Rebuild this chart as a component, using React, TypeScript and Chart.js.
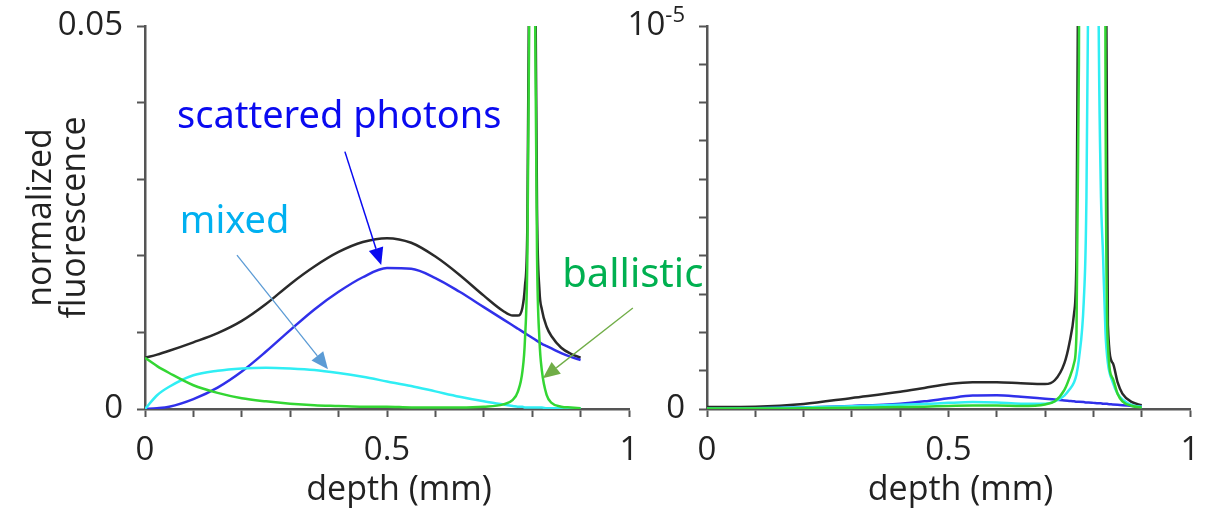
import React, { useEffect, useRef } from 'react';
import { Chart, registerables } from 'chart.js';

Chart.register(...registerables);

// ---------- data (left panel, absolute normalized fluorescence) ----------
const leftDepth = [0, 0.025, 0.05, 0.1, 0.15, 0.2, 0.25, 0.3, 0.35, 0.4, 0.45, 0.5, 0.55, 0.6, 0.65, 0.7, 0.74, 0.76, 0.77, 0.78, 0.785, 0.79, 0.795, 0.8, 0.805, 0.81, 0.815, 0.82, 0.83, 0.84, 0.86, 0.88, 0.9];
const leftTotal = [0.0067, 0.0071, 0.0076, 0.0087, 0.0099, 0.0115, 0.0137, 0.0163, 0.0186, 0.0205, 0.0218, 0.0223, 0.0217, 0.0199, 0.0175, 0.0148, 0.0128, 0.0122, 0.0122, 0.0133, 0.0160, 0.0240, 0.0700, 0.0900, 0.0700, 0.0260, 0.0155, 0.0130, 0.0107, 0.0095, 0.0080, 0.0072, 0.0067];
const leftScattered = [0, 0.0001, 0.0003, 0.0013, 0.0028, 0.0049, 0.0075, 0.0103, 0.0130, 0.0153, 0.0172, 0.0184, 0.0183, 0.0171, 0.0153, 0.0133, 0.0117, 0.0109, 0.0105, 0.0101, 0.0099, 0.0097, 0.0095, 0.0093, 0.0091, 0.0089, 0.0087, 0.0085, 0.0082, 0.0079, 0.0073, 0.0068, 0.0064];
const leftMixed = [0, 0.0018, 0.0029, 0.0044, 0.0050, 0.0053, 0.0054, 0.0053, 0.0051, 0.0047, 0.0042, 0.0036, 0.0030, 0.0023, 0.0016, 0.0010, 0.0006, 0.0004, 0.0003, 0.0003, 0.0002, 0.0002, 0.0002, 0.0002, 0.0002, 0.0002, 0.0002, 0.0002, 0.0001, 0.0001, 0.0001, 0.0001, 0.0001];
const leftBallistic = [0.0067, 0.0056, 0.0047, 0.0031, 0.0021, 0.0014, 0.0010, 0.0007, 0.0005, 0.0004, 0.0003, 0.0003, 0.0002, 0.0002, 0.0002, 0.0003, 0.0006, 0.0012, 0.0022, 0.0050, 0.0090, 0.0200, 0.0600, 0.0800, 0.0600, 0.0200, 0.0090, 0.0050, 0.0018, 0.0008, 0.0003, 0.0002, 0.0001];

// ---------- data (right panel) ----------
const rightDepth = [0, 0.1, 0.2, 0.3, 0.4, 0.45, 0.5, 0.55, 0.6, 0.65, 0.7, 0.72, 0.74, 0.75, 0.76, 0.765, 0.77, 0.78, 0.785, 0.79, 0.8, 0.81, 0.815, 0.82, 0.825, 0.83, 0.84, 0.85, 0.86, 0.88, 0.9];
const rightTotal = [0.005e-5, 0.006e-5, 0.013e-5, 0.029e-5, 0.045e-5, 0.055e-5, 0.065e-5, 0.070e-5, 0.070e-5, 0.067e-5, 0.065e-5, 0.075e-5, 0.12e-5, 0.17e-5, 0.25e-5, 0.4e-5, 1.5e-5, 5e-5, 7e-5, 8e-5, 9e-5, 8e-5, 7e-5, 5e-5, 1.5e-5, 0.22e-5, 0.12e-5, 0.07e-5, 0.04e-5, 0.018e-5, 0.01e-5];
const rightScattered = [0.001e-5, 0.002e-5, 0.004e-5, 0.008e-5, 0.014e-5, 0.020e-5, 0.028e-5, 0.035e-5, 0.036e-5, 0.032e-5, 0.027e-5, 0.025e-5, 0.022e-5, 0.021e-5, 0.020e-5, 0.019e-5, 0.019e-5, 0.018e-5, 0.017e-5, 0.017e-5, 0.016e-5, 0.015e-5, 0.015e-5, 0.014e-5, 0.014e-5, 0.013e-5, 0.012e-5, 0.011e-5, 0.010e-5, 0.008e-5, 0.006e-5];
const rightMixed = [0.001e-5, 0.002e-5, 0.004e-5, 0.007e-5, 0.011e-5, 0.013e-5, 0.016e-5, 0.018e-5, 0.017e-5, 0.014e-5, 0.014e-5, 0.020e-5, 0.035e-5, 0.05e-5, 0.07e-5, 0.09e-5, 0.13e-5, 0.28e-5, 0.5e-5, 1.2e-5, 5e-5, 1.2e-5, 0.6e-5, 0.4e-5, 0.2e-5, 0.12e-5, 0.07e-5, 0.04e-5, 0.025e-5, 0.01e-5, 0.005e-5];
const rightBallistic = [0.001e-5, 0.001e-5, 0.002e-5, 0.003e-5, 0.005e-5, 0.006e-5, 0.008e-5, 0.009e-5, 0.009e-5, 0.008e-5, 0.012e-5, 0.02e-5, 0.05e-5, 0.08e-5, 0.12e-5, 0.2e-5, 0.9e-5, 5e-5, 7e-5, 8e-5, 9e-5, 8e-5, 7e-5, 5e-5, 0.9e-5, 0.17e-5, 0.08e-5, 0.04e-5, 0.02e-5, 0.008e-5, 0.004e-5];

// ---------- text ----------
const xTickLabels = ['0', '0.5', '1'];
const leftYTickLabels = ['0', '0.05'];
const rightYTickLabels = ['0', '10', '-5'];
const xTitle = 'depth (mm)';
const yTitle = ['normalized', 'fluorescence'];
const annotationLabels = ['scattered photons', 'mixed', 'ballistic'];

// ---------- styles ----------
const FONT = '"Open Sans", "DejaVu Sans", sans-serif';
const ANNOT_FONT = '"Noto Sans", "DejaVu Sans", sans-serif';
const AXIS = '#555555';
const TEXT = '#222222';
const LINE = { total: '#2a2a2a', scattered: '#3030ea', mixed: '#30eef4', ballistic: '#33d633' };

function series(xs: number[], ys: number[]) {
  return xs.map((x, i) => ({ x, y: ys[i] }));
}

function dataset(xs: number[], ys: number[], color: string, order: number) {
  return {
    data: series(xs, ys),
    borderColor: color,
    backgroundColor: color,
    borderWidth: 2.5,
    pointRadius: 0,
    fill: false,
    cubicInterpolationMode: 'monotone' as const,
    order,
  };
}

function xScale() {
  return {
    type: 'linear' as const,
    min: 0,
    max: 1,
    afterFit: (s: any) => { s.height = 105; s.paddingLeft = 0; s.paddingRight = 0; },
    border: { display: true, color: AXIS, width: 2.5 },
    grid: { display: true, drawOnChartArea: false, drawTicks: true, tickLength: 8, tickWidth: 2, tickColor: AXIS },
    ticks: {
      stepSize: 0.1,
      autoSkip: false,
      maxRotation: 0,
      padding: 14,
      color: TEXT,
      font: { family: FONT, size: 33 },
      callback: (_v: any, i: number) => (i % 5 === 0 ? xTickLabels[i / 5] : ''),
    },
  };
}

function arrow(ctx: CanvasRenderingContext2D, x1: number, y1: number, x2: number, y2: number, color: string, width: number, headLen: number, headW: number) {
  const a = Math.atan2(y2 - y1, x2 - x1);
  const bx = x2 - headLen * Math.cos(a);
  const by = y2 - headLen * Math.sin(a);
  ctx.strokeStyle = color;
  ctx.lineWidth = width;
  ctx.beginPath();
  ctx.moveTo(x1, y1);
  ctx.lineTo(bx, by);
  ctx.stroke();
  ctx.fillStyle = color;
  ctx.beginPath();
  ctx.moveTo(x2, y2);
  ctx.lineTo(bx + headW * Math.sin(a), by - headW * Math.cos(a));
  ctx.lineTo(bx - headW * Math.sin(a), by + headW * Math.cos(a));
  ctx.closePath();
  ctx.fill();
}

function drawXTitle(chart: any) {
  const { ctx, chartArea } = chart;
  ctx.save();
  ctx.font = `34px ${FONT}`;
  ctx.fillStyle = TEXT;
  ctx.textAlign = 'center';
  ctx.textBaseline = 'middle';
  ctx.fillText(xTitle, (chartArea.left + chartArea.right) / 2 + 12, 490);
  ctx.restore();
}

const leftOverlay = {
  id: 'leftOverlay',
  afterDraw(chart: any) {
    const { ctx } = chart;
    const { x, y } = chart.scales;
    const px = (v: number) => x.getPixelForValue(v);
    const py = (v: number) => y.getPixelForValue(v);
    drawXTitle(chart);
    ctx.save();
    ctx.textAlign = 'left';
    ctx.textBaseline = 'alphabetic';
    ctx.font = `38px ${ANNOT_FONT}`;
    ctx.fillStyle = '#0a0af0';
    ctx.fillText(annotationLabels[0], px(0.066), py(0.0367));
    ctx.fillStyle = '#00b0f0';
    ctx.fillText(annotationLabels[1], px(0.072), py(0.0230));
    ctx.font = `40px ${ANNOT_FONT}`;
    ctx.fillStyle = '#00b050';
    ctx.fillText(annotationLabels[2], px(0.862), py(0.0159));
    arrow(ctx, px(0.413), py(0.0336), px(0.488), py(0.0188), '#0a0af0', 1.5, 17, 7.5);
    arrow(ctx, px(0.19), py(0.0201), px(0.378), py(0.0052), '#5b9bd5', 1.3, 17, 7.5);
    arrow(ctx, px(1.008), py(0.0132), px(0.822), py(0.0040), '#70ad47', 1.3, 17, 7.5);
    ctx.restore();
  },
};

const rightOverlay = {
  id: 'rightOverlay',
  afterDraw(chart: any) {
    const { ctx, chartArea } = chart;
    const { y } = chart.scales;
    drawXTitle(chart);
    ctx.save();
    const right = chartArea.left - 8 - 14;
    const top = y.getPixelForValue(1e-5);
    ctx.fillStyle = TEXT;
    ctx.textAlign = 'right';
    ctx.textBaseline = 'middle';
    ctx.font = `22px ${FONT}`;
    const w = ctx.measureText(rightYTickLabels[2]).width;
    ctx.fillText(rightYTickLabels[2], right, top - 10);
    ctx.font = `33px ${FONT}`;
    ctx.fillText(rightYTickLabels[1], right - w, top);
    ctx.restore();
  },
};

function yAxisBase(width: number) {
  return {
    type: 'linear' as const,
    min: 0,
    afterFit: (s: any) => { s.width = width; s.paddingTop = 0; s.paddingBottom = 0; },
    border: { display: true, color: AXIS, width: 2.5 },
    grid: { display: true, drawOnChartArea: false, drawTicks: true, tickLength: 8, tickWidth: 2, tickColor: AXIS },
  };
}

function leftConfig(): any {
  return {
    type: 'line',
    data: {
      datasets: [
        dataset(leftDepth, leftTotal, LINE.total, 3),
        dataset(leftDepth, leftScattered, LINE.scattered, 2),
        dataset(leftDepth, leftMixed, LINE.mixed, 1),
        dataset(leftDepth, leftBallistic, LINE.ballistic, 0),
      ],
    },
    options: {
      responsive: false,
      maintainAspectRatio: false,
      animation: false,
      events: [],
      layout: { padding: { left: 0, right: 91, top: 26, bottom: 0 } },
      plugins: { legend: { display: false }, tooltip: { enabled: false } },
      scales: {
        x: xScale(),
        y: {
          ...yAxisBase(145),
          max: 0.05,
          ticks: {
            stepSize: 0.01,
            autoSkip: false,
            padding: 14,
            color: TEXT,
            font: { family: FONT, size: 33 },
            callback: (_v: any, i: number) => (i === 0 ? leftYTickLabels[0] : i === 5 ? leftYTickLabels[1] : ''),
          },
          title: {
            display: true,
            text: yTitle,
            color: TEXT,
            font: { family: FONT, size: 34, lineHeight: 1 },
            padding: { top: 24, bottom: 0 },
          },
        },
      },
    },
    plugins: [leftOverlay],
  };
}

function rightConfig(): any {
  return {
    type: 'line',
    data: {
      datasets: [
        dataset(rightDepth, rightTotal, LINE.total, 3),
        dataset(rightDepth, rightScattered, LINE.scattered, 2),
        dataset(rightDepth, rightMixed, LINE.mixed, 1),
        dataset(rightDepth, rightBallistic, LINE.ballistic, 0),
      ],
    },
    options: {
      responsive: false,
      maintainAspectRatio: false,
      animation: false,
      events: [],
      layout: { padding: { left: 0, right: 25, top: 26, bottom: 0 } },
      plugins: { legend: { display: false }, tooltip: { enabled: false } },
      scales: {
        x: xScale(),
        y: {
          ...yAxisBase(107),
          max: 1e-5,
          ticks: {
            stepSize: 1e-6,
            autoSkip: false,
            padding: 14,
            color: TEXT,
            font: { family: FONT, size: 33 },
            callback: (_v: any, i: number) => (i === 0 ? rightYTickLabels[0] : ''),
          },
        },
      },
    },
    plugins: [rightOverlay],
  };
}

export default function App() {
  const leftRef = useRef<HTMLCanvasElement>(null);
  const rightRef = useRef<HTMLCanvasElement>(null);
  useEffect(() => {
    const c1 = new Chart(leftRef.current as HTMLCanvasElement, leftConfig());
    const c2 = new Chart(rightRef.current as HTMLCanvasElement, rightConfig());
    return () => {
      c1.destroy();
      c2.destroy();
    };
  }, []);
  return (
    <div style={{ position: 'absolute', left: 0, top: 0, width: 1215, height: 514, background: '#ffffff', overflow: 'hidden' }}>
      <canvas ref={leftRef} width={720} height={514} style={{ position: 'absolute', left: 0, top: 0 }} />
      <canvas ref={rightRef} width={615} height={514} style={{ position: 'absolute', left: 600, top: 0 }} />
    </div>
  );
}
